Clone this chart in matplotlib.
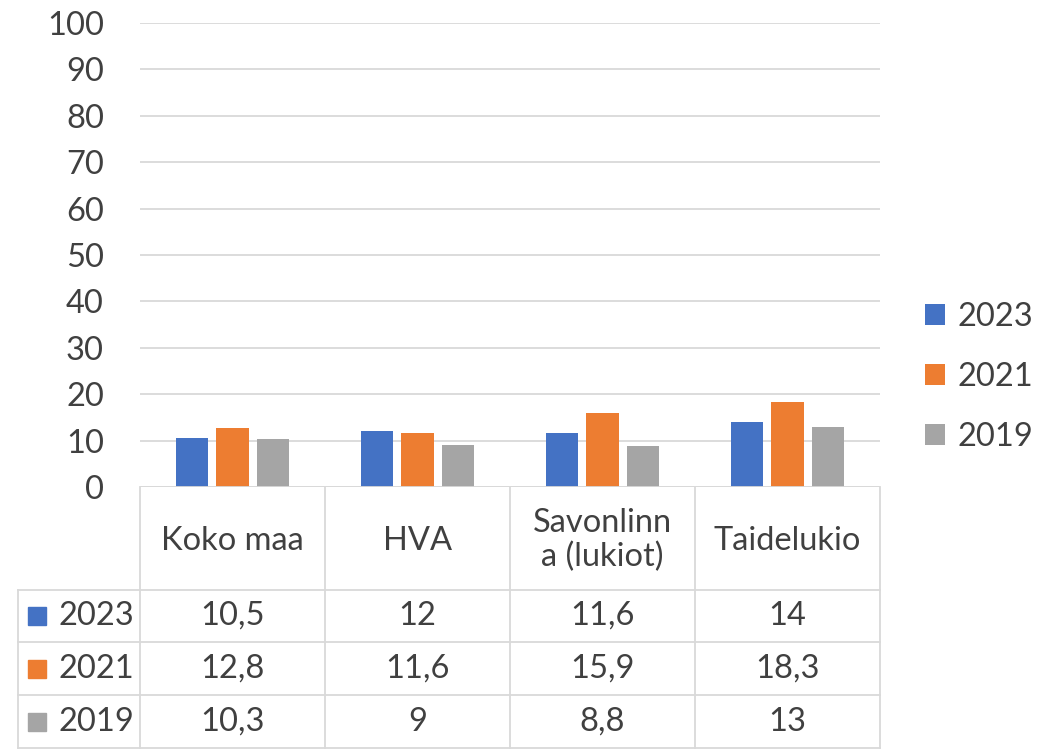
import matplotlib.pyplot as plt
from matplotlib.patches import Rectangle

plt.rcParams['font.family'] = ['Lato', 'DejaVu Sans']

categories = ['Koko maa', 'HVA', 'Savonlinn\na (lukiot)', 'Taidelukio']
years = ['2023', '2021', '2019']
values_2023 = [10.5, 12, 11.6, 14]
values_2021 = [12.8, 11.6, 15.9, 18.3]
values_2019 = [10.3, 9, 8.8, 13]
yticks = [0, 10, 20, 30, 40, 50, 60, 70, 80, 90, 100]

series = [values_2023, values_2021, values_2019]
colors = ['#4472C4', '#ED7D31', '#A5A5A5']
grid_c = '#D9D9D9'
text_c = '#404040'
fs = 23.5

W, H = 1059, 751
fig = plt.figure(figsize=(W / 100, H / 100), dpi=100)

# plot area in pixels
px0, px1, py_top, py_bot = 140, 880, 23, 487
ax = fig.add_axes([px0 / W, 1 - py_bot / H, (px1 - px0) / W, (py_bot - py_top) / H])
n = len(categories)
bw = 0.173
offs = [-0.221, 0, 0.221]
for i, (vals, c, yr) in enumerate(zip(series, colors, years)):
    ax.bar([k + offs[i] for k in range(n)], vals, width=bw, color=c, label=yr, zorder=3)
ax.set_xlim(-0.5, n - 0.5)
ax.set_ylim(0, 100)
ax.set_yticks(yticks)
ax.set_yticklabels([str(t) for t in yticks], fontsize=fs, color=text_c)
ax.tick_params(axis='y', length=0, pad=26)
ax.set_xticks([])
ax.grid(axis='y', color=grid_c, linewidth=1.3, zorder=0)
for s in ax.spines.values():
    s.set_visible(False)
ax.axhline(0, color=grid_c, linewidth=1.3, zorder=4)

leg = fig.legend(loc='center left', bbox_to_anchor=(912 / W, 1 - 377 / H), frameon=False,
                 fontsize=fs, labelspacing=0.92, handlelength=0.62, handleheight=0.62,
                 handletextpad=0.38, borderaxespad=0)
for t in leg.get_texts():
    t.set_color(text_c)

# data table below the plot
tx0, ty0, ty1 = 18, 487, 748
tax = fig.add_axes([tx0 / W, 1 - ty1 / H, (px1 - tx0) / W, (ty1 - ty0) / H])
cw = (px1 - px0) / n
left = -0.5 - (px0 - tx0) / cw
tax.set_xlim(left, n - 0.5)
tax.set_ylim(ty1, ty0)
tax.axis('off')
row_lines = [590, 642, 695, 748]
lw = 1.3
for k in range(n + 1):
    tax.plot([k - 0.5, k - 0.5], [ty0, ty1], color=grid_c, lw=lw, clip_on=False)
tax.plot([left, left], [row_lines[0], ty1], color=grid_c, lw=lw, clip_on=False)
for y in row_lines:
    tax.plot([left, n - 0.5], [y, y], color=grid_c, lw=lw, clip_on=False)
for k, cat in enumerate(categories):
    tax.text(k, (ty0 + row_lines[0]) / 2 + 2, cat, ha='center', va='center',
             fontsize=fs, color=text_c, linespacing=1.15)
for r, (vals, c, yr) in enumerate(zip(series, colors, years)):
    yc = (row_lines[r] + row_lines[r + 1]) / 2
    for k, v in enumerate(vals):
        tax.text(k, yc, f'{v:g}'.replace('.', ','), ha='center', va='center',
                 fontsize=fs, color=text_c)
    sq = 18 / cw
    tax.add_patch(Rectangle((left + 10 / cw, yc - 9), sq, 18, color=c, clip_on=False))
    tax.text(left + 41 / cw, yc, yr, ha='left', va='center', fontsize=fs, color=text_c)

fig.savefig('out.png', dpi=100)
